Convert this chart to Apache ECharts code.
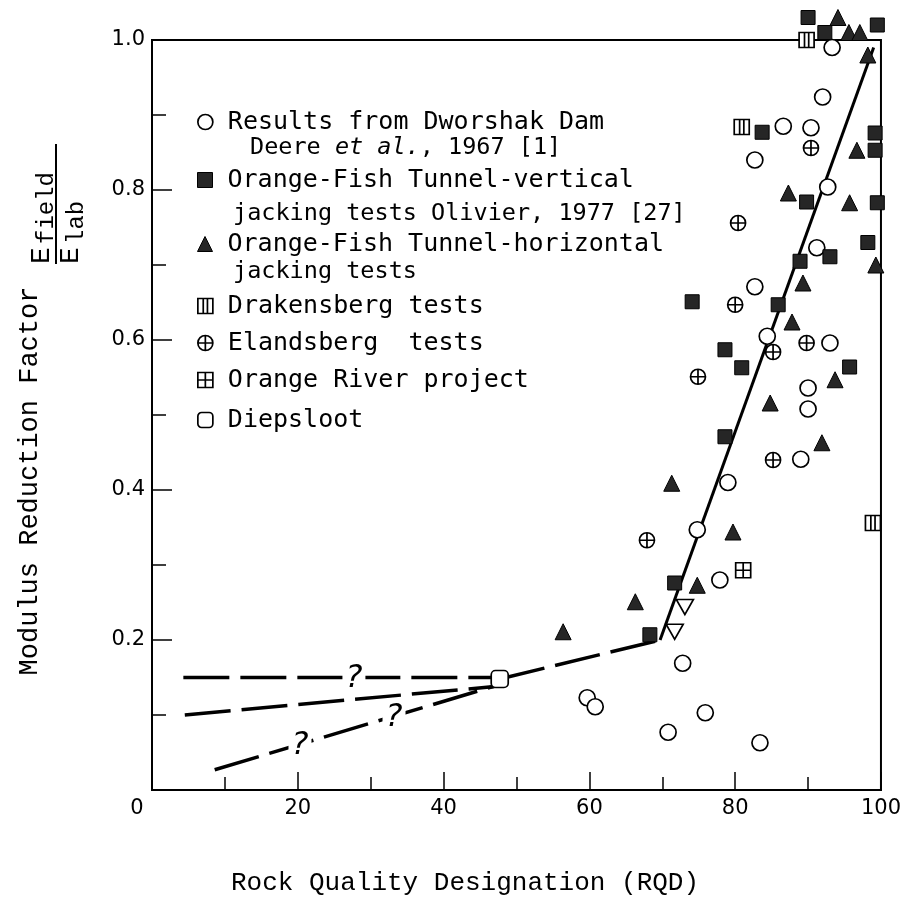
<!DOCTYPE html>
<html><head><meta charset="utf-8">
<script src="https://cdn.jsdelivr.net/npm/echarts@6/dist/echarts.min.js"></script>
<style>html,body{margin:0;padding:0;background:#fff}#c{width:904px;height:905px}</style>
</head><body><div id="c"></div>
<script>
// ---- data (RQD %, E_field/E_lab) ----
const dworshak = [[93.3,0.99],[92.0,0.924],[86.6,0.885],[90.4,0.883],[82.7,0.84],[92.7,0.804],[91.2,0.723],[82.7,0.671],[84.4,0.605],[93.0,0.596],[90.0,0.536],[90.0,0.508],[89.0,0.441],[79.0,0.41],[74.8,0.347],[77.9,0.28],[72.8,0.169],[59.7,0.123],[60.8,0.111],[75.9,0.103],[70.8,0.077],[83.4,0.063]];
const ofVertical = [[90.0,1.03],[92.3,1.01],[99.5,1.02],[83.7,0.877],[99.2,0.876],[99.2,0.853],[89.8,0.784],[99.5,0.783],[98.2,0.73],[93.0,0.711],[88.9,0.705],[74.1,0.651],[85.9,0.647],[78.6,0.587],[80.9,0.563],[95.7,0.564],[78.6,0.471],[71.7,0.276],[68.3,0.207]];
const ofHorizontal = [[94.1,1.03],[95.6,1.01],[97.1,1.01],[98.2,0.98],[96.7,0.853],[87.3,0.796],[95.7,0.783],[99.3,0.70],[89.3,0.676],[87.8,0.624],[93.7,0.547],[84.8,0.516],[91.9,0.463],[71.3,0.409],[79.7,0.344],[74.8,0.273],[66.3,0.251],[56.4,0.211]];
const drakensberg = [[89.8,1.0],[80.9,0.884],[98.9,0.356]];
const elandsberg = [[90.4,0.856],[80.4,0.756],[80.0,0.647],[85.2,0.584],[89.8,0.596],[74.9,0.551],[85.2,0.44],[67.9,0.333]];
const orangeRiver = [[81.1,0.293]];
const diepsloot = [[47.7,0.148]];
const unlabelled = [[73.1,0.244],[71.7,0.211]];
// fitted lines
const solidLine = [[69.7,0.2],[99.0,0.99]];
const dashedKnee = [[47.7,0.148],[69.7,0.2]];
const dashedFlat = [[4.3,0.15],[47.0,0.15]];
const dashedMid = [[4.5,0.1],[47.0,0.138]];
const dashedSteep = [[8.6,0.027],[47.5,0.14]];
const questionMarks = [[27.7,0.149],[33.2,0.096],[20.3,0.059]];

const legendNames = ['Results from Dworshak Dam','Orange-Fish Tunnel-vertical','Orange-Fish Tunnel-horizontal','Drakensberg tests','Elandsberg  tests','Orange River project','Diepsloot'];
const legendSecondLines = ['Deere {i|et al.}, 1967 [1]','jacking tests Olivier, 1977 [27]','jacking tests'];
const xTitle = 'Rock Quality Designation (RQD)';
const yTitle = 'Modulus Reduction Factor';

const LFONT = 'DejaVu Sans Mono';
// ---- symbols ----
const SYM = {
  circle: 'circle',
  square: 'rect',
  tri: 'triangle',
  drak: 'path://M0,0L100,0L100,100L0,100Z M36,0L36,100 M64,0L64,100',
  eland: 'path://M0,50A50,50 0 1,0 100,50A50,50 0 1,0 0,50Z M50,0L50,100 M0,50L100,50',
  orr: 'path://M0,0L100,0L100,100L0,100Z M50,0L50,100 M0,50L100,50',
  diep: 'roundRect',
  inv: 'path://M0,0L100,0L50,100Z'
};
const STY = {
  open: {color:'#fff', borderColor:'#000', borderWidth:1.7, opacity:1},
  filled: {color:'#262626', borderColor:'#000', borderWidth:1, opacity:1}
};
function sc(name, data, symbol, size, style, z){
  return {type:'scatter', name, data, symbol, symbolSize:size, itemStyle:style, clip:false, silent:true, z:z||4, emphasis:{disabled:true}};
}
function ln(data, dashed, width){
  return {type:'line', data, symbol:'none', showSymbol:false, silent:true, z:2, clip:false,
    lineStyle:{color:'#000', width:width, type: dashed ? [46,11] : 'solid', cap:'butt'}};
}
const series = [
  ln(solidLine,false,3), ln(dashedKnee,true,3.5), ln(dashedFlat,true,3.5), ln(dashedMid,true,3.5), ln(dashedSteep,true,3.5),
  sc(legendNames[0], dworshak, SYM.circle, 16, STY.open),
  sc(legendNames[1], ofVertical, SYM.square, 14, STY.filled),
  sc(legendNames[2], ofHorizontal, SYM.tri, 16, STY.filled),
  sc(legendNames[3], drakensberg, SYM.drak, [15,15], STY.open),
  sc(legendNames[4], elandsberg, SYM.eland, 15, STY.open),
  sc(legendNames[5], orangeRiver, SYM.orr, 15, STY.open),
  sc(legendNames[6], diepsloot, SYM.diep, 17, STY.open, 5),
  sc('unlabelled', unlabelled, SYM.inv, [17,15], STY.open),
  {type:'scatter', data: questionMarks, symbol:'circle', symbolSize:1, itemStyle:{color:'#fff', opacity:1}, silent:true, z:6, clip:false,
   label:{show:true, position:'inside', formatter:'?', fontFamily:'DejaVu Sans', fontSize:32, fontStyle:'italic', color:'#000', backgroundColor:'#fff', padding:[0,3]}}
];
const legendY = [122,180,244,306,343,380,420];
const legendSym = [SYM.circle, SYM.square, SYM.tri, SYM.drak, SYM.eland, SYM.orr, SYM.diep];
const legendSty = [STY.open, STY.filled, STY.filled, STY.open, STY.open, STY.open, STY.open];
const legends = legendNames.map((n,i)=>({
  data:[{name:n, icon:legendSym[i], itemStyle:legendSty[i]}],
  left:197, top:legendY[i]-13, padding:0, itemWidth:15, itemHeight:15, selectedMode:false,
  textStyle:{fontFamily:LFONT, fontSize:25, color:'#000', lineHeight:26, padding:[0,0,0,10]}
}));
const secondY = [148,214,272], secondX = [250,233,233];
const graphics = legendSecondLines.map((t,i)=>({type:'text', x:secondX[i], y:secondY[i], silent:true,
  style:{text:t, fontFamily:LFONT, fontSize:23.5, fill:'#000', align:'left', verticalAlign:'middle',
    rich:{i:{fontFamily:LFONT, fontStyle:'italic', fontSize:23.5, fill:'#000'}}}}));
graphics.push({type:'text', x:30, y:481, rotation:Math.PI/2, silent:true,
  style:{text:yTitle, fontFamily:'Liberation Mono', fontSize:27, fill:'#000', align:'center', verticalAlign:'middle'}});
graphics.push({type:'text', x:465, y:883, silent:true,
  style:{text:xTitle, fontFamily:'Liberation Mono', fontSize:26, fill:'#000', align:'center', verticalAlign:'middle'}});
graphics.push({type:'group', x:56, y:204, rotation:Math.PI/2, silent:true, children:[
  {type:'line', shape:{x1:-60,y1:0,x2:60,y2:0}, style:{stroke:'#000', lineWidth:2}},
  {type:'text', x:-60, y:-14, style:{text:'E', fontFamily:'Liberation Mono', fontSize:28, fill:'#000', align:'left', verticalAlign:'middle'}},
  {type:'text', x:-40, y:-9, style:{text:'field', fontFamily:'Liberation Mono', fontSize:24, fill:'#000', align:'left', verticalAlign:'middle'}},
  {type:'text', x:-60, y:15, style:{text:'E', fontFamily:'Liberation Mono', fontSize:28, fill:'#000', align:'left', verticalAlign:'middle'}},
  {type:'text', x:-40, y:21, style:{text:'lab', fontFamily:'Liberation Mono', fontSize:24, fill:'#000', align:'left', verticalAlign:'middle'}}
]});

const axisCommon = {
  axisLine:{show:true, lineStyle:{color:'#000', width:2}},
  splitLine:{show:false}
};
const option = {
  animation:false,
  backgroundColor:'#fff',
  grid:{left:152, right:23, top:40, bottom:115, show:true, borderColor:'#000', borderWidth:2},
  xAxis:Object.assign({type:'value', min:0, max:100, interval:20,
    axisLabel:{color:'#000', fontFamily:'DejaVu Sans', fontSize:21, margin:8,
      formatter:v => v===0 ? '{z|0}' : String(v),
      rich:{z:{padding:[0,30,0,0], fontFamily:'DejaVu Sans', fontSize:21, color:'#000'}}},
    axisTick:{show:true, inside:true, length:18, lineStyle:{color:'#000', width:1.5}},
    minorTick:{show:true, splitNumber:2, length:13, lineStyle:{color:'#000', width:1.5}}}, axisCommon),
  yAxis:Object.assign({type:'value', min:0, max:1, interval:0.2,
    axisLabel:{color:'#000', fontFamily:'DejaVu Sans', fontSize:21, margin:7,
      formatter:v => v===0 ? '' : v.toFixed(1)},
    axisTick:{show:true, inside:true, length:20, lineStyle:{color:'#000', width:1.5}},
    minorTick:{show:true, splitNumber:2, length:14, lineStyle:{color:'#000', width:1.5}}}, axisCommon),
  legend:legends,
  graphic:graphics,
  series:series
};
const chart = echarts.init(document.getElementById('c'));
chart.setOption(option);
</script></body></html>
